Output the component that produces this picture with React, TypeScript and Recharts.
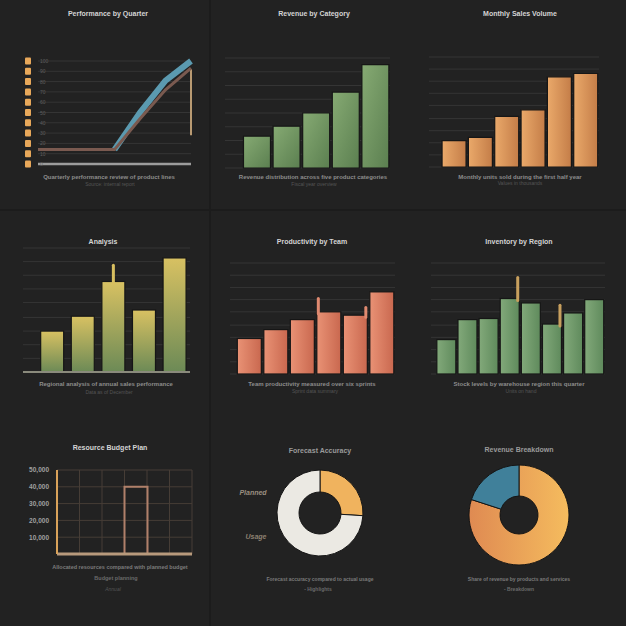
import React from 'react';
import {
    BarChart,
    Bar,
    LineChart,
    Line,
    XAxis,
    YAxis,
    CartesianGrid,
    ReferenceLine,
    PieChart,
    Pie,
    Cell,
} from 'recharts';

// ---- data ----
const growthQuarters = ['Q1', 'Q2', 'Q3', 'Q4', 'Q5', 'Q6', 'Q7'];
const growthBase = [14, 14, 14, 14, 44, 72, 93];
const growthTrend = [null, null, null, 14, 50, 81, 100];
const growthTicks = [0, 10, 20, 30, 40, 50, 60, 70, 80, 90, 100];

const categoryNames = ['A', 'B', 'C', 'D', 'E'];
const categoryValues = [29, 38, 50, 69, 94];

const monthNames = ['Jan', 'Feb', 'Mar', 'Apr', 'May', 'Jun'];
const monthValues = [24, 27, 46, 52, 82, 85];

const analysisNames = ['North', 'South', 'East', 'West', 'Central'];
const analysisValues = [33, 45, 73, 50, 92];
const analysisSpikes = [null, null, 86, null, null];

const teamNames = ['T1', 'T2', 'T3', 'T4', 'T5', 'T6'];
const teamValues = [32, 40, 49, 56, 53, 74];
const teamSpikes = [null, null, null, 68, 60, null];
const teamSpikeSide = ['center', 'center', 'center', 'left', 'right', 'center'];

const regionNames = ['R1', 'R2', 'R3', 'R4', 'R5', 'R6', 'R7', 'R8'];
const regionValues = [31, 49, 50, 68, 64, 45, 55, 67];
const regionSpikes = [null, null, null, 87, null, 62, null, null];

const planSlots = ['S1', 'S2', 'S3', 'S4', 'S5', 'S6'];
const planValues = [0, 0, 0, 4, 0, 0];
const planTicks = [1, 2, 3, 4, 5];
const planTickLabels = ['10,000', '20,000', '30,000', '40,000', '50,000'];

const accuracyNames = ['Planned', 'Usage'];
const accuracyValues = [26, 74];

const breakdownNames = ['Products', 'Services'];
const breakdownValues = [80, 20];

const eighthTicks = [0, 12.5, 25, 37.5, 50, 62.5, 75, 87.5, 100];
const ninthTicks = [0, 11, 22, 33, 44, 56, 67, 78, 89, 100];

// ---- helpers ----
const FONT = '"Liberation Sans", "DejaVu Sans", sans-serif';
const gridColor = '#353535';

function zip(names: string[], values: number[], spikes?: (number | null)[]) {
    return names.map((name, i) => ({ name, value: values[i], spike: spikes ? spikes[i] : null }));
}

function Text({ x, y, text, size = 7, color = '#d4d4d4', weight = 700, italic = false }: any) {
    return (
        <div
            style={{
                position: 'absolute',
                left: x - 100,
                top: y - size / 2 - 1,
                width: 200,
                textAlign: 'center',
                fontFamily: FONT,
                fontSize: size,
                fontWeight: weight,
                fontStyle: italic ? 'italic' : 'normal',
                color,
                whiteSpace: 'nowrap',
                lineHeight: 1,
            }}
        >
            {text}
        </div>
    );
}

function Cell9({ left, top, children }: any) {
    return <div style={{ position: 'absolute', left, top, width: 210, height: 210 }}>{children}</div>;
}

// bar with an optional thin spike drawn from the same value scale
function spikeShape(fill: string, stroke: string, spikeColor: string, sides?: string[]) {
    return (props: any) => {
        const { x, y, width, height, payload, index } = props;
        if (!height || height <= 0) return null;
        const side = sides ? sides[index] : 'center';
        let spike = null;
        if (payload.spike) {
            const unit = height / payload.value;
            const sy = y + height - payload.spike * unit;
            const sx = side === 'left' ? x + 1.5 : side === 'right' ? x + width - 1.5 : x + width / 2;
            spike = <line x1={sx} x2={sx} y1={sy} y2={y + 2} stroke={spikeColor} strokeWidth={3} strokeLinecap="round" />;
        }
        return (
            <g>
                <rect x={x} y={y} width={width} height={height} fill={fill} stroke={stroke} strokeWidth={1.2} />
                {spike}
            </g>
        );
    };
}

function SquareTick(props: any) {
    const { x, y, payload } = props;
    return (
        <g>
            <rect x={x - 5} y={y - 3.5} width={6} height={7} rx={1} fill="#e8a85a" />
            <text x={x + 10} y={y + 2} fontSize={5} fill="#5e5e5e" fontFamily={FONT}>
                {payload.value}
            </text>
        </g>
    );
}

export default function App() {
    const growthData = growthQuarters.map((q, i) => ({ name: q, base: growthBase[i], trend: growthTrend[i] }));
    const categoryData = zip(categoryNames, categoryValues);
    const monthData = zip(monthNames, monthValues);
    const analysisData = zip(analysisNames, analysisValues, analysisSpikes);
    const teamData = zip(teamNames, teamValues, teamSpikes);
    const regionData = zip(regionNames, regionValues, regionSpikes);
    const planData = zip(planSlots, planValues);
    const accuracyData = zip(accuracyNames, accuracyValues);
    const breakdownData = zip(breakdownNames, breakdownValues);
    const tickLabel = (v: number) => planTickLabels[planTicks.indexOf(v)] ?? '';

    const panelStyle = (left: number, top: number, w: number, h: number) => ({
        position: 'absolute' as const,
        left,
        top,
        width: w,
        height: h,
        background: '#222222',
    });

    return (
        <div style={{ position: 'fixed', left: 0, top: 0, width: 626, height: 626, background: '#1c1c1c', overflow: 'hidden' }}>
            {[0, 211, 416].map((l, ci) =>
                [0, 211, 416].map((t, ri) => (
                    <div key={`${ci}-${ri}`} style={panelStyle(l, t, ci === 2 ? 210 : 209, ri === 2 ? 210 : 209)} />
                ))
            )}

            {/* row 1 */}
            <Cell9 left={0} top={0}>
                <LineChart width={210} height={210} data={growthData} margin={{ top: 61, right: 19, bottom: 45, left: 8 }}>
                    <CartesianGrid vertical={false} stroke={gridColor} />
                    <XAxis dataKey="name" tick={false} height={1} axisLine={{ stroke: '#9c9c9c', strokeWidth: 2.5 }} tickLine={false} />
                    <YAxis domain={[0, 100]} ticks={growthTicks} interval={0} width={30} axisLine={false} tickLine={false} tick={<SquareTick />} />
                    <ReferenceLine segment={[{ x: 'Q7', y: 28 }, { x: 'Q7', y: 92 }]} stroke="#b99a72" strokeWidth={2} />
                    <Line dataKey="trend" stroke="#5b9ab0" strokeWidth={6} dot={false} isAnimationActive={false} connectNulls={false} />
                    <Line dataKey="base" stroke="#7a5a50" strokeWidth={3} dot={false} isAnimationActive={false} />
                </LineChart>
                <Text x={108} y={14} text="Performance by Quarter" />
                <Text x={109} y={178} text="Quarterly performance review of product lines" size={6} color="#8c8c8c" />
                <Text x={110} y={185} text="Source: internal report" size={5} color="#555" weight={400} />
            </Cell9>

            <Cell9 left={210} top={0}>
                <BarChart width={210} height={210} data={categoryData} margin={{ top: 58, right: 30, bottom: 42, left: 15 }} barCategoryGap="5%">
                    <defs>
                        <linearGradient id="gGreen" x1="0" y1="0" x2="1" y2="1">
                            <stop offset="0%" stopColor="#86aa73" />
                            <stop offset="100%" stopColor="#5b7f50" />
                        </linearGradient>
                    </defs>
                    <CartesianGrid vertical={false} stroke={gridColor} />
                    <XAxis dataKey="name" hide padding={{ left: 17, right: 0 }} />
                    <YAxis domain={[0, 100]} ticks={eighthTicks} interval={0} hide />
                    <Bar dataKey="value" fill="url(#gGreen)" stroke="#161616" strokeWidth={1.2} isAnimationActive={false} />
                </BarChart>
                <Text x={104} y={14} text="Revenue by Category" />
                <Text x={103} y={178} text="Revenue distribution across five product categories" size={6} color="#8c8c8c" />
                <Text x={104} y={185} text="Fiscal year overview" size={5} color="#555" weight={400} />
            </Cell9>

            <Cell9 left={416} top={0}>
                <BarChart width={210} height={210} data={monthData} margin={{ top: 57, right: 27, bottom: 43, left: 13 }} barCategoryGap="4%">
                    <defs>
                        <linearGradient id="gOrange" x1="0" y1="0" x2="1" y2="0">
                            <stop offset="0%" stopColor="#eaa96a" />
                            <stop offset="100%" stopColor="#c47d48" />
                        </linearGradient>
                    </defs>
                    <CartesianGrid vertical={false} stroke={gridColor} />
                    <XAxis dataKey="name" hide padding={{ left: 12, right: 0 }} />
                    <YAxis domain={[0, 100]} ticks={ninthTicks} interval={0} hide />
                    <Bar dataKey="value" fill="url(#gOrange)" stroke="#161616" strokeWidth={1.2} isAnimationActive={false} />
                </BarChart>
                <Text x={104} y={14} text="Monthly Sales Volume" />
                <Text x={104} y={178} text="Monthly units sold during the first half year" size={6} color="#8c8c8c" />
                <Text x={104} y={184} text="Values in thousands" size={5} color="#555" weight={400} />
            </Cell9>

            {/* row 2 */}
            <Cell9 left={0} top={210}>
                <BarChart width={210} height={210} data={analysisData} margin={{ top: 38, right: 20, bottom: 47, left: 23 }} barCategoryGap="12%">
                    <defs>
                        <linearGradient id="gYellow" x1="0" y1="0" x2="0" y2="1">
                            <stop offset="0%" stopColor="#d8c162" />
                            <stop offset="100%" stopColor="#6c8a56" />
                        </linearGradient>
                    </defs>
                    <CartesianGrid vertical={false} stroke={gridColor} />
                    <XAxis dataKey="name" tick={false} height={1} padding={{ left: 14, right: 0 }} axisLine={{ stroke: '#8a8a7c', strokeWidth: 2 }} tickLine={false} />
                    <YAxis domain={[0, 100]} ticks={ninthTicks} interval={0} hide />
                    <Bar dataKey="value" isAnimationActive={false} shape={spikeShape('url(#gYellow)', '#161616', '#d8bf60')} />
                </BarChart>
                <Text x={103} y={32} text="Analysis" />
                <Text x={106} y={175} text="Regional analysis of annual sales performance" size={6} color="#8c8c8c" />
                <Text x={109} y={183} text="Data as of December" size={5} color="#555" weight={400} />
            </Cell9>

            <Cell9 left={210} top={210}>
                <BarChart width={210} height={210} data={teamData} margin={{ top: 53, right: 25, bottom: 46, left: 20 }} barCategoryGap="5%">
                    <defs>
                        <linearGradient id="gSalmon" x1="0" y1="0" x2="1" y2="0">
                            <stop offset="0%" stopColor="#e99275" />
                            <stop offset="100%" stopColor="#c9684f" />
                        </linearGradient>
                    </defs>
                    <CartesianGrid vertical={false} stroke={gridColor} />
                    <XAxis dataKey="name" hide padding={{ left: 6, right: 0 }} />
                    <YAxis domain={[0, 100]} ticks={ninthTicks} interval={0} hide />
                    <Bar dataKey="value" isAnimationActive={false} shape={spikeShape('url(#gSalmon)', '#161616', '#e08a70', teamSpikeSide)} />
                </BarChart>
                <Text x={102} y={32} text="Productivity by Team" />
                <Text x={102} y={175} text="Team productivity measured over six sprints" size={6} color="#8c8c8c" />
                <Text x={105} y={182} text="Sprint data summary" size={5} color="#555" weight={400} />
            </Cell9>

            <Cell9 left={416} top={210}>
                <BarChart width={210} height={210} data={regionData} margin={{ top: 53, right: 21, bottom: 46, left: 15 }} barCategoryGap="4%">
                    <defs>
                        <linearGradient id="gSage" x1="0" y1="0" x2="1" y2="0">
                            <stop offset="0%" stopColor="#82a97a" />
                            <stop offset="100%" stopColor="#5f8a5c" />
                        </linearGradient>
                    </defs>
                    <CartesianGrid vertical={false} stroke={gridColor} />
                    <XAxis dataKey="name" hide padding={{ left: 5, right: 0 }} />
                    <YAxis domain={[0, 100]} ticks={ninthTicks} interval={0} hide />
                    <Bar
                        dataKey="value"
                        isAnimationActive={false}
                        shape={spikeShape('url(#gSage)', '#161616', '#c8a05e', ['right', 'right', 'right', 'right', 'right', 'right', 'right', 'right'])}
                    />
                </BarChart>
                <Text x={103} y={32} text="Inventory by Region" />
                <Text x={103} y={175} text="Stock levels by warehouse region this quarter" size={6} color="#8c8c8c" />
                <Text x={105} y={182} text="Units on hand" size={5} color="#555" weight={400} />
            </Cell9>

            {/* row 3 */}
            <Cell9 left={0} top={416}>
                <BarChart width={210} height={210} data={planData} margin={{ top: 54, right: 18, bottom: 71, left: 8 }} barCategoryGap={0}>
                    <CartesianGrid
                        stroke="#463d36"
                        verticalCoordinatesGenerator={({ offset }: any) =>
                            planSlots.map((_, i) => offset.left + (i * offset.width) / planSlots.length).concat([offset.left + offset.width])
                        }
                    />
                    <XAxis dataKey="name" tick={false} height={1} axisLine={{ stroke: '#b89a7c', strokeWidth: 3 }} tickLine={false} />
                    <YAxis
                        domain={[0, 5]}
                        ticks={planTicks}
                        interval={0}
                        width={49}
                        tickFormatter={tickLabel}
                        axisLine={{ stroke: '#d9a25a', strokeWidth: 2 }}
                        tickLine={false}
                        tick={{ fill: '#a0a0a0', fontSize: 6.5, fontFamily: FONT, fontWeight: 700 }}
                    />
                    <Bar dataKey="value" fill="none" stroke="#b0806a" strokeWidth={2} isAnimationActive={false} />
                </BarChart>
                <Text x={110} y={32} text="Resource Budget Plan" />
                <Text x={120} y={153} text="Allocated resources compared with planned budget" size={5.5} color="#7c7c7c" />
                <Text x={116} y={164} text="Budget planning" size={5.5} color="#6a6a6a" />
                <Text x={113} y={174} text="Annual" size={5} color="#555" weight={400} italic />
            </Cell9>

            <Cell9 left={210} top={416}>
                <PieChart width={210} height={210} margin={{ top: 0, right: 0, bottom: 0, left: 0 }}>
                    <Pie
                        data={accuracyData}
                        dataKey="value"
                        cx={110}
                        cy={97}
                        innerRadius={21}
                        outerRadius={43}
                        startAngle={90}
                        endAngle={-270}
                        stroke="#151515"
                        strokeWidth={1}
                        isAnimationActive={false}
                    >
                        <Cell fill="#f0b35e" />
                        <Cell fill="#ebe9e3" />
                    </Pie>
                </PieChart>
                <Text x={110} y={35} text="Forecast Accuracy" color="#9a9a9a" />
                <Text x={43} y={77} text="Planned" size={7} color="#9a8f80" italic />
                <Text x={46} y={121} text="Usage" size={7} color="#8c8070" italic />
                <Text x={110} y={164} text="Forecast accuracy compared to actual usage" size={5} color="#7a7a7a" />
                <Text x={108} y={174} text="- Highlights" size={5} color="#6a6a6a" />
            </Cell9>

            <Cell9 left={416} top={416}>
                <PieChart width={210} height={210} margin={{ top: 0, right: 0, bottom: 0, left: 0 }}>
                    <defs>
                        <linearGradient id="gPie" x1="1" y1="0" x2="0" y2="0">
                            <stop offset="0%" stopColor="#f5bc5e" />
                            <stop offset="100%" stopColor="#df8a52" />
                        </linearGradient>
                    </defs>
                    <Pie
                        data={breakdownData}
                        dataKey="value"
                        cx={103}
                        cy={99}
                        innerRadius={19}
                        outerRadius={50}
                        startAngle={90}
                        endAngle={-270}
                        stroke="#151515"
                        strokeWidth={1}
                        isAnimationActive={false}
                    >
                        <Cell fill="url(#gPie)" />
                        <Cell fill="#40809a" />
                    </Pie>
                </PieChart>
                <Text x={103} y={34} text="Revenue Breakdown" color="#9a9a9a" />
                <Text x={103} y={164} text="Share of revenue by products and services" size={5} color="#7a7a7a" />
                <Text x={103} y={174} text="- Breakdown" size={5} color="#6a6a6a" />
            </Cell9>
        </div>
    );
}
